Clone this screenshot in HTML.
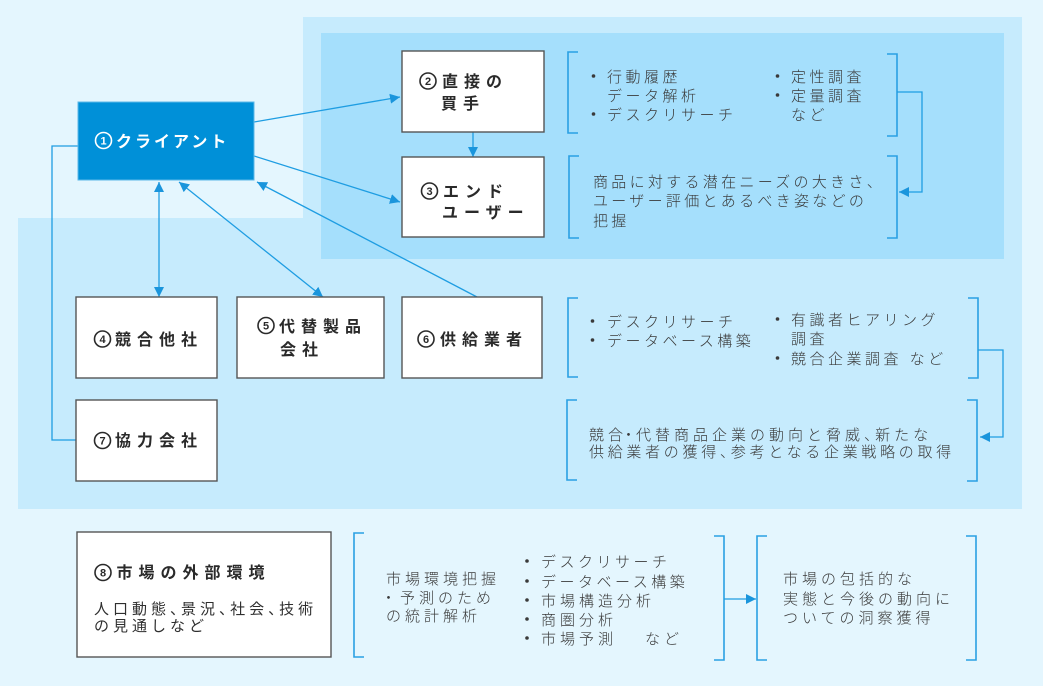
<!DOCTYPE html>
<html><head><meta charset="utf-8"><style>
html,body{margin:0;padding:0;background:#e4f6fe;}
svg{display:block;}
text{font-family:"Liberation Sans","Noto Sans CJK JP",sans-serif;}
.n{font-size:16px;font-weight:700;fill:#2a2a2a;letter-spacing:6px;}
.d{font-size:11px;font-weight:700;fill:#2a2a2a;text-anchor:middle;font-family:"Liberation Sans",sans-serif;}
.c{fill:none;stroke:#2a2a2a;stroke-width:1.6;}
.t{font-size:15px;fill:#3a3a3a;letter-spacing:3.5px;font-weight:300;}
.s{font-size:15px;fill:#3a3a3a;letter-spacing:3.3px;font-weight:300;}
.w{font-size:15px;fill:#3a3a3a;letter-spacing:4px;font-weight:300;}
.box{fill:#fff;stroke:#555;stroke-width:1.4;}
.ln{stroke:#1e9de2;stroke-width:1.3;fill:none;}
.br{stroke:#2aa0e3;stroke-width:1.6;fill:none;}
</style></head><body>
<svg width="1043" height="686" viewBox="0 0 1043 686" xmlns="http://www.w3.org/2000/svg">
<defs>
<marker id="a" markerUnits="userSpaceOnUse" markerWidth="11" markerHeight="10" refX="10" refY="5" orient="auto">
<path d="M0,0 L10,5 L0,10 z" fill="#1a95dc"/>
</marker>
<marker id="b" markerUnits="userSpaceOnUse" markerWidth="11" markerHeight="10" refX="0" refY="5" orient="auto">
<path d="M10,0 L0,5 L10,10 z" fill="#1a95dc"/>
</marker>
</defs>
<rect x="0" y="0" width="1043" height="686" fill="#e4f6fe"/>
<path d="M303,17 H1022 V509 H18 V218 H303 Z" fill="#c6ebfd"/>
<rect x="321" y="33" width="683" height="226" fill="#a5dffc"/>

<!-- connectors -->
<line class="ln" x1="254" y1="122" x2="400" y2="97" marker-end="url(#a)"/>
<line class="ln" x1="254" y1="156" x2="400" y2="202" marker-end="url(#a)"/>
<line class="ln" x1="473" y1="132" x2="473" y2="157" marker-end="url(#a)"/>
<polyline class="ln" points="78,146 52,146 52,440 77,440"/>
<line class="ln" x1="159" y1="182" x2="159" y2="297" marker-start="url(#b)" marker-end="url(#a)"/>
<line class="ln" x1="179" y1="182" x2="323" y2="297" marker-start="url(#b)" marker-end="url(#a)"/>
<line class="ln" x1="477" y1="297" x2="257" y2="182" marker-end="url(#a)"/>

<!-- node 1 -->
<rect x="78" y="102" width="176" height="78" fill="#0090d8" stroke="#5cb8e8" stroke-width="1"/>
<circle cx="103.5" cy="140.5" r="8" fill="none" stroke="#fff" stroke-width="1.6"/>
<text x="103.5" y="144.5" style="font-size:11px;font-weight:700;fill:#fff;text-anchor:middle;font-family:'Liberation Sans',sans-serif;">1</text>
<text x="116" y="147" style="font-size:16px;font-weight:700;fill:#fff;letter-spacing:3px;">クライアント</text>

<!-- node 2 -->
<rect class="box" x="402" y="51" width="142" height="81"/>
<circle class="c" cx="428" cy="81" r="8"/><text class="d" x="428" y="85">2</text>
<text class="n" x="442" y="87">直接の</text>
<text class="n" x="441" y="109">買手</text>

<!-- node 3 -->
<rect class="box" x="402" y="157" width="142" height="80"/>
<circle class="c" cx="429.5" cy="191" r="8"/><text class="d" x="429.5" y="195">3</text>
<text class="n" x="443" y="197">エンド</text>
<text class="n" x="442" y="218">ユーザー</text>

<!-- node 4 -->
<rect class="box" x="76" y="297" width="141" height="81"/>
<circle class="c" cx="102.5" cy="339" r="8"/><text class="d" x="102.5" y="343">4</text>
<text class="n" x="115" y="345">競合他社</text>

<!-- node 5 -->
<rect class="box" x="237" y="297" width="147" height="81"/>
<circle class="c" cx="266" cy="325.5" r="8"/><text class="d" x="266" y="329.5">5</text>
<text class="n" x="279" y="332">代替製品</text>
<text class="n" x="280" y="355">会社</text>

<!-- node 6 -->
<rect class="box" x="402" y="297" width="140" height="81"/>
<circle class="c" cx="426" cy="339" r="8"/><text class="d" x="426" y="343">6</text>
<text class="n" x="440" y="345">供給業者</text>

<!-- node 7 -->
<rect class="box" x="76" y="400" width="141" height="81"/>
<circle class="c" cx="102.5" cy="440.5" r="8"/><text class="d" x="102.5" y="444.5">7</text>
<text class="n" x="115" y="446">協力会社</text>

<!-- node 8 -->
<rect class="box" x="77" y="532" width="254" height="125"/>
<circle class="c" cx="103" cy="572.5" r="8"/><text class="d" x="103" y="576.5">8</text>
<text class="n" x="116.5" y="578">市場の外部環境</text>
<text x="94" y="614" style="font-size:15px;fill:#2f2f2f;letter-spacing:4px;">人口動態<tspan style="letter-spacing:-4px">、</tspan>景況<tspan style="letter-spacing:-4px">、</tspan>社会<tspan style="letter-spacing:-4px">、</tspan>技術</text>
<text x="94" y="631" style="font-size:15px;fill:#2f2f2f;letter-spacing:4px;">の見通しなど</text>

<!-- bracket 1 -->
<path class="br" d="M578,52 H568 V133 H578"/>
<path class="br" d="M887,54 H897 V136 H887"/>
<circle cx="593.5" cy="76" r="1.8" fill="#3a3a3a"/>
<text class="t" x="607" y="82">行動履歴</text>
<text class="t" x="607" y="101">データ解析</text>
<circle cx="593.5" cy="114" r="1.8" fill="#3a3a3a"/>
<text class="t" x="607" y="120">デスクリサーチ</text>
<circle cx="777.5" cy="76" r="1.8" fill="#3a3a3a"/>
<text class="t" x="791" y="82">定性調査</text>
<circle cx="777.5" cy="95" r="1.8" fill="#3a3a3a"/>
<text class="t" x="791" y="101">定量調査</text>
<text class="t" x="791" y="120">など</text>
<polyline class="ln" points="897,92 922,92 922,192 899,192" marker-end="url(#a)"/>

<!-- bracket 2 -->
<path class="br" d="M579,156 H569 V238 H579"/>
<path class="br" d="M887,156 H897 V238 H887"/>
<text class="s" x="593" y="187">商品に対する潜在ニーズの大きさ、</text>
<text class="s" x="593" y="206">ユーザー評価とあるべき姿などの</text>
<text class="s" x="593" y="226">把握</text>

<!-- bracket 3 -->
<path class="br" d="M578,298 H568 V377 H578"/>
<path class="br" d="M968,298 H978 V378 H968"/>
<circle cx="592.5" cy="321" r="1.8" fill="#3a3a3a"/>
<text class="t" x="607" y="327">デスクリサーチ</text>
<circle cx="592.5" cy="340" r="1.8" fill="#3a3a3a"/>
<text class="t" x="607" y="346">データベース構築</text>
<circle cx="777.5" cy="319" r="1.8" fill="#3a3a3a"/>
<text class="t" x="791" y="325">有識者ヒアリング</text>
<text class="t" x="791" y="344">調査</text>
<circle cx="777.5" cy="358" r="1.8" fill="#3a3a3a"/>
<text class="t" x="791" y="364">競合企業調査 など</text>
<polyline class="ln" points="978,350 1003,350 1003,437 980,437" marker-end="url(#a)"/>

<!-- bracket 4 -->
<path class="br" d="M577,400 H567 V480 H577"/>
<path class="br" d="M967,400 H977 V481 H967"/>
<text class="w" x="589" y="440">競合<tspan dx="-6" style="letter-spacing:0">・</tspan>代替商品企業の動向と脅威<tspan style="letter-spacing:-4px">、</tspan>新たな</text>
<text class="w" x="589" y="457" style="letter-spacing:3.7px">供給業者の獲得<tspan style="letter-spacing:-4px">、</tspan>参考となる企業戦略の取得</text>

<!-- bracket 5 -->
<path class="br" d="M364,533 H354 V657 H364"/>
<path class="br" d="M714,536 H724 V660 H714"/>
<text class="w" x="386" y="584">市場環境把握</text>
<text class="w" x="386" y="603"><tspan dx="-5">・</tspan>予測のため</text>
<text class="w" x="386" y="621">の統計解析</text>
<circle cx="527" cy="561" r="1.8" fill="#3a3a3a"/>
<text class="t" x="541" y="567">デスクリサーチ</text>
<circle cx="527" cy="581" r="1.8" fill="#3a3a3a"/>
<text class="t" x="541" y="587">データベース構築</text>
<circle cx="527" cy="600" r="1.8" fill="#3a3a3a"/>
<text class="w" x="541" y="606">市場構造分析</text>
<circle cx="527" cy="619" r="1.8" fill="#3a3a3a"/>
<text class="w" x="541" y="625">商圏分析</text>
<circle cx="527" cy="638" r="1.8" fill="#3a3a3a"/>
<text class="w" x="541" y="644">市場予測</text>
<text class="w" x="645" y="644">など</text>
<line class="ln" x1="724" y1="599" x2="756" y2="599" marker-end="url(#a)"/>

<!-- bracket 6 -->
<path class="br" d="M767,536 H757 V660 H767"/>
<path class="br" d="M966,536 H976 V660 H966"/>
<text class="w" x="783" y="584">市場の包括的な</text>
<text class="w" x="783" y="604">実態と今後の動向に</text>
<text class="w" x="783" y="623">ついての洞察獲得</text>
</svg>
</body></html>
